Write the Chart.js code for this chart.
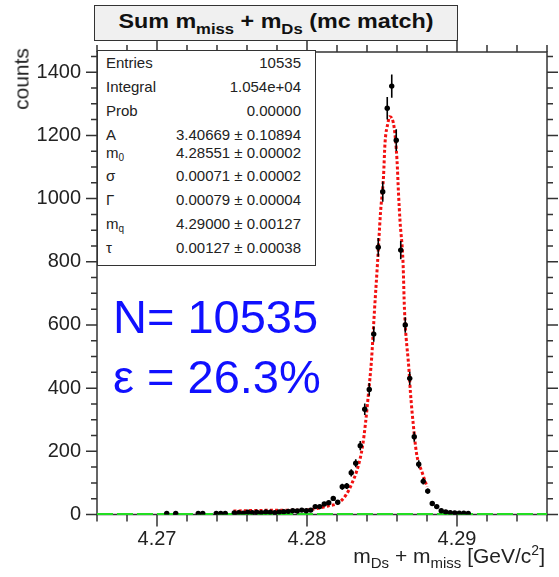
<!DOCTYPE html>
<html>
<head>
<meta charset="utf-8">
<script src="https://cdn.jsdelivr.net/npm/chart.js@4.4.1/dist/chart.umd.min.js"></script>
<style>
  html, body { margin:0; padding:0; background:#fff; }
  body { font-family: 'Liberation Sans', Arial, sans-serif; color:#222; }
  #wrap { position:relative; width:559px; height:577px; overflow:hidden; }
  #c { position:absolute; left:0; top:0; }
  .ov { position:absolute; white-space:nowrap; }
  #title { left:94px; top:5px; width:362px; height:34px; background:#f0f0f0; border:1.5px solid #333;
           font-weight:bold; font-size:21px; line-height:30px; text-align:center; color:#111; }
  #title span.t { display:inline-block; transform:scaleX(1.11); }
  #title sub { font-size:15px; vertical-align:-6px; line-height:0; }
  #stats { left:97px; top:50px; width:217px; height:214px; background:#fff; border:1.5px solid #333; }
  .row { position:absolute; left:8px; right:14px; height:18px; line-height:18px; font-size:15px; color:#222; }
  .row .v { position:absolute; right:0; top:0; }
  .row sub { font-size:10px; vertical-align:-3px; line-height:0; }
  #ylab { left:21px; top:48px; font-size:21px; line-height:21px; transform-origin:0 0;
          transform:rotate(-90deg) translate(-100%,-50%); }
  #xlab { right:14px; top:545px; font-size:21px; line-height:21px; }
  #xlab sub { font-size:15px; vertical-align:-5px; line-height:0; }
  .blue { left:113px; font-size:47px; line-height:46px; color:#1010ff; }
</style>
</head>
<body>
<div id="wrap">
  <canvas id="c" width="559" height="577"></canvas>
  <div class="ov" id="title"><span class="t">Sum m<sub>miss</sub> + m<sub>Ds</sub> (mc match)</span></div>
  <div class="ov" id="stats"></div>
  <div class="ov" id="ylab">counts</div>
  <div class="ov" id="xlab">m<sub>Ds</sub> + m<sub>miss</sub> [GeV/c<sup style="font-size:14px;line-height:0">2</sup>]</div>
  <div class="ov blue" style="top:294px">N= 10535</div>
  <div class="ov blue" style="top:354px">ε = 26.3%</div>
</div>
<script>
// ---------- données ----------
const binCenters = [
  4.27065, 4.27125, 4.27275, 4.27305, 4.27395, 4.27425, 4.27455,
  4.27515, 4.27545, 4.27575, 4.27605, 4.27635, 4.27665, 4.27695, 4.27725, 4.27755, 4.27785,
  4.27815, 4.27845, 4.27875, 4.27905, 4.27935, 4.27965, 4.27995, 4.28025, 4.28055, 4.28085,
  4.28115, 4.28145, 4.28175, 4.28205, 4.28235, 4.28265, 4.28295, 4.28325, 4.28355, 4.28385,
  4.28415, 4.28445, 4.28475, 4.28505, 4.28535, 4.28565, 4.28595, 4.28625, 4.28655, 4.28685,
  4.28715, 4.28745, 4.28775, 4.28805, 4.28835, 4.28865, 4.28895, 4.28925, 4.28955, 4.28985,
  4.29015, 4.29045, 4.29075
];
const counts = [
  3, 3, 3, 3, 3, 3, 3,
  5, 6, 4, 7, 6, 7, 6, 8, 7, 6,
  8, 9, 10, 12, 11, 14, 12, 14, 25, 25,
  33, 37, 51, 39, 88, 90, 132, 162, 218, 333,
  396, 571, 846, 1022, 1286, 1356, 1185, 837, 600, 431,
  246, 159, 105, 74, 35, 25, 12, 8, 6, 5,
  4, 4, 3
];
const binHalfWidth = 0.00015;

// courbe d'ajustement (pointillés rouges)
const fitX = [4.2751, 4.2769, 4.2798, 4.2804, 4.2814, 4.2821, 4.2826, 4.2830, 4.2834, 4.2837,
              4.2839, 4.2841, 4.2843, 4.2845, 4.2847, 4.2849, 4.2851, 4.2852, 4.2854, 4.2855,
              4.2858, 4.2860, 4.2861, 4.2862, 4.2864, 4.2865, 4.2868, 4.2869, 4.2871, 4.2873,
              4.2877, 4.2880];
const fitY = [11, 13, 14, 17, 27, 37, 62, 99, 151, 215,
              289, 384, 489, 647, 795, 955, 1069, 1175, 1240, 1259,
              1228, 1122, 1017, 930, 800, 647, 457, 384, 278, 194,
              130, 88];

// composante de fond (vert)
const bkgX = [4.266, 4.296];
const bkgY = [1.5, 1.5];

const xTickValues = [4.27, 4.28, 4.29];
const yTickValues = [0, 200, 400, 600, 800, 1000, 1200, 1400];

// boîte de statistiques
const statLabels = ['Entries', 'Integral', 'Prob', 'A', 'm<sub>0</sub>', 'σ', 'Γ', 'm<sub>q</sub>', 'τ'];
const statValues = ['10535', '1.054e+04', '0.00000', '3.40669 ± 0.10894', '4.28551 ± 0.00002',
                    '0.00071 ± 0.00002', '0.00079 ± 0.00004', '4.29000 ± 0.00127', '0.00127 ± 0.00038'];
const statRowTops = [3, 27, 51, 75, 93, 116, 140, 164, 188];

(() => {
  const box = document.getElementById('stats');
  statLabels.forEach((l, i) => {
    const r = document.createElement('div');
    r.className = 'row';
    r.style.top = statRowTops[i] + 'px';
    r.innerHTML = `<span>${l}</span><span class="v">${statValues[i]}</span>`;
    box.appendChild(r);
  });
})();

// ---------- plugins ----------
const frameTicks = {
  id: 'frameTicks',
  beforeDatasetsDraw(chart) {
    const { ctx, chartArea: a, scales: { x, y } } = chart;
    ctx.save();
    ctx.strokeStyle = '#333';
    ctx.lineWidth = 1.5;
    ctx.strokeRect(a.left, a.top, a.right - a.left, a.bottom - a.top);
    ctx.beginPath();
    for (let v = 4.266; v <= 4.2961; v += 0.002) {
      const px = x.getPixelForValue(v);
      const major = xTickValues.some(t => Math.abs(t - v) < 1e-6);
      const L = major ? 12 : 7;
      ctx.moveTo(px, a.bottom); ctx.lineTo(px, a.bottom + L);
      ctx.moveTo(px, a.top);    ctx.lineTo(px, a.top - L);
    }
    for (let v = 0; v <= 1464; v += 50) {
      const py = y.getPixelForValue(v);
      const major = v % 200 === 0;
      const L = major ? 11 : 6;
      ctx.moveTo(a.left, py);  ctx.lineTo(a.left - L, py);
      ctx.moveTo(a.right, py); ctx.lineTo(a.right + L, py);
    }
    ctx.stroke();
    ctx.restore();
  }
};

const errorBars = {
  id: 'errorBars',
  afterDatasetDraw(chart, args) {
    if (args.index !== 0) return;
    const { ctx, scales: { x, y } } = chart;
    ctx.save();
    ctx.strokeStyle = '#000';
    ctx.lineWidth = 1.6;
    ctx.beginPath();
    binCenters.forEach((c, i) => {
      const n = counts[i], e = Math.sqrt(n);
      const px = x.getPixelForValue(c), py = y.getPixelForValue(n);
      ctx.moveTo(px, y.getPixelForValue(n - e)); ctx.lineTo(px, y.getPixelForValue(n + e));
      ctx.moveTo(x.getPixelForValue(c - binHalfWidth), py); ctx.lineTo(x.getPixelForValue(c + binHalfWidth), py);
    });
    ctx.stroke();
    ctx.restore();
  }
};

new Chart(document.getElementById('c'), {
  type: 'scatter',
  data: {
    datasets: [
      { label: 'data', data: binCenters.map((c, i) => ({ x: c, y: counts[i] })),
        pointRadius: 2.7, pointBackgroundColor: '#000', pointBorderWidth: 0, showLine: false, order: 0 },
      { label: 'fit', data: fitX.map((c, i) => ({ x: c, y: fitY[i] })),
        showLine: true, borderColor: '#f21010', borderWidth: 3, borderDash: [3, 2.2],
        pointRadius: 0, cubicInterpolationMode: 'monotone', order: 1 },
      { label: 'bkg', data: bkgX.map((c, i) => ({ x: c, y: bkgY[i] })),
        showLine: true, borderColor: '#22dd22', borderWidth: 2, borderDash: [16, 4],
        pointRadius: 0, order: 2, clip: 4 }
    ]
  },
  options: {
    responsive: false,
    animation: false,
    devicePixelRatio: 1,
    layout: { padding: { left: 0, top: 52, right: 12, bottom: 0 } },
    plugins: { legend: { display: false }, tooltip: { enabled: false }, title: { display: false } },
    scales: {
      x: {
        type: 'linear', min: 4.266, max: 4.296,
        grid: { display: false, drawTicks: false }, border: { display: false },
        afterBuildTicks: s => { s.ticks = xTickValues.map(v => ({ value: v })); },
        afterFit: s => { s.height = 62.5; },
        ticks: { padding: 13, color: '#222', font: { family: "'Liberation Sans', Arial", size: 20 },
                 maxRotation: 0, callback: v => v.toFixed(2) }
      },
      y: {
        min: 0, max: 1464,
        grid: { display: false, drawTicks: false }, border: { display: false },
        afterBuildTicks: s => { s.ticks = yTickValues.map(v => ({ value: v })); },
        afterFit: s => { s.width = 97; },
        ticks: { padding: 16, color: '#222', font: { family: "'Liberation Sans', Arial", size: 20 },
                 callback: v => String(v) }
      }
    }
  },
  plugins: [frameTicks, errorBars]
});
</script>
</body>
</html>
